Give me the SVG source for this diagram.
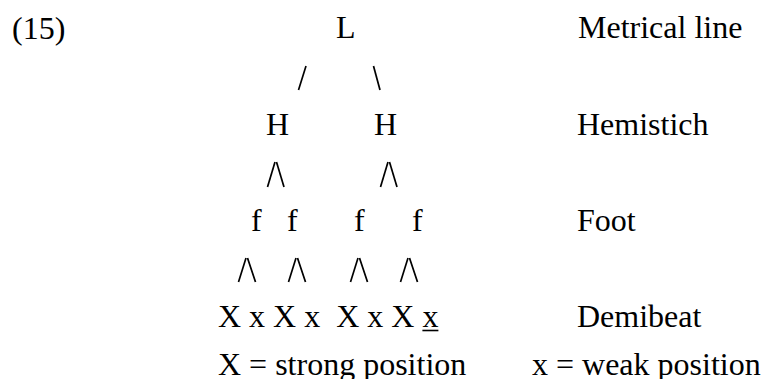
<svg xmlns="http://www.w3.org/2000/svg" width="761" height="379" viewBox="0 0 761 379">
  <style>
    text { font-family: "Liberation Serif", "Times New Roman", serif; font-size: 32px; fill: #000; }
    .edge { stroke: #000; stroke-width: 1.7; fill: none; stroke-linecap: butt; }
  </style>
  <rect width="761" height="379" fill="#fff"/>

  <text id="example-number" x="12" y="39">(15)</text>

  <!-- tree nodes -->
  <g id="node-L"><text x="336" y="38">L</text></g>
  <g id="node-H1"><text x="266" y="135">H</text></g>
  <g id="node-H2"><text x="374" y="135">H</text></g>
  <g id="node-f1"><text x="251" y="231">f</text></g>
  <g id="node-f2"><text x="287" y="231">f</text></g>
  <g id="node-f3"><text x="354" y="231">f</text></g>
  <g id="node-f4"><text x="412" y="231">f</text></g>
  <g id="node-demibeats">
    <text y="327"><tspan x="218">X</tspan><tspan x="249.1">x</tspan><tspan x="273.1">X</tspan><tspan x="304.2">x</tspan><tspan x="336.2">X</tspan><tspan x="367.3">x</tspan><tspan x="391.3">X</tspan><tspan x="422.4">x</tspan></text>
    <line x1="422.4" y1="330.5" x2="438.4" y2="330.5" stroke="#000" stroke-width="1.6"/>
  </g>

  <!-- level labels -->
  <g id="label-line"><text x="578" y="38">Metrical line</text></g>
  <g id="label-hemistich"><text x="577" y="135">Hemistich</text></g>
  <g id="label-foot"><text x="577" y="231">Foot</text></g>
  <g id="label-demibeat"><text x="577" y="327">Demibeat</text></g>

  <!-- legend -->
  <g id="legend">
    <text x="218" y="375">X = strong position</text>
    <text x="532" y="375">x = weak position</text>
  </g>

  <!-- branches -->
  <g id="connectors">
    <line class="edge" x1="298.5" y1="90" x2="306" y2="66"/>
    <line class="edge" x1="373.5" y1="66" x2="380" y2="90"/>

    <line class="edge" x1="267.5" y1="187" x2="275" y2="162"/>
    <line class="edge" x1="276.5" y1="162" x2="284" y2="187"/>
    <line class="edge" x1="380.5" y1="187" x2="388" y2="162"/>
    <line class="edge" x1="389.5" y1="162" x2="397" y2="187"/>

    <line class="edge" x1="238.5" y1="282" x2="246" y2="258"/>
    <line class="edge" x1="247.5" y1="258" x2="255.5" y2="282"/>
    <line class="edge" x1="288.5" y1="282" x2="296" y2="258"/>
    <line class="edge" x1="297.5" y1="258" x2="305.5" y2="282"/>
    <line class="edge" x1="350.5" y1="282" x2="358" y2="258"/>
    <line class="edge" x1="359.5" y1="258" x2="367.5" y2="282"/>
    <line class="edge" x1="400.5" y1="282" x2="408" y2="258"/>
    <line class="edge" x1="409.5" y1="258" x2="417.5" y2="282"/>
  </g>
</svg>
